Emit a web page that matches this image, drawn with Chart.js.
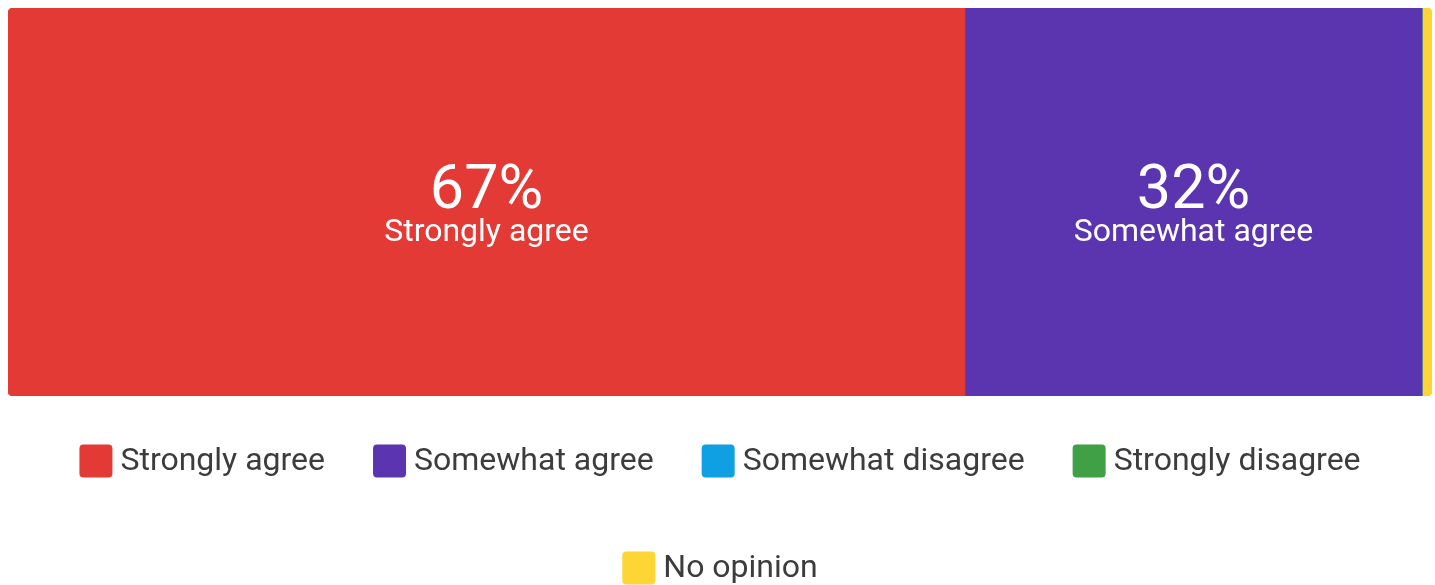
<!DOCTYPE html>
<html>
<head>
<meta charset="utf-8">
<script src="https://cdn.jsdelivr.net/npm/chart.js@4/dist/chart.umd.min.js"></script>
<style>
  html, body { margin: 0; padding: 0; background: #ffffff; }
  #wrap { width: 1435px; height: 585px; position: relative; }
</style>
</head>
<body>
<div id="wrap"><canvas id="c"></canvas></div>
<script>
// ---- data ----
const categories = ["Responses"];
const seriesLabels = ["Strongly agree", "Somewhat agree", "Somewhat disagree", "Strongly disagree", "No opinion"];
const seriesValues = [67.2, 32.1, 0, 0, 0.7];
const seriesColors = ["#E33A35", "#5B35AF", "#0FA0E3", "#3FA046", "#FDD534"];

const FONT = "Roboto, 'Liberation Sans', sans-serif";
const lastIdx = seriesValues.length - 1;

const datasets = seriesLabels.map((lab, i) => ({
  label: lab,
  data: [seriesValues[i]],
  backgroundColor: seriesColors[i],
  borderWidth: 0,
  borderSkipped: false,
  borderRadius: i === 0 ? {topLeft: 5, bottomLeft: 5, topRight: 0, bottomRight: 0}
              : (i === lastIdx ? {topLeft: 0, bottomLeft: 0, topRight: 5, bottomRight: 5}
              : {topLeft: 0, bottomLeft: 0, topRight: 0, bottomRight: 0}),
  barPercentage: 1.0,
  categoryPercentage: 1.0
}));

// labels inside the segments
const segmentLabels = {
  id: 'segmentLabels',
  afterDatasetsDraw(chart) {
    const ctx = chart.ctx;
    ctx.save();
    ctx.textAlign = 'center';
    ctx.textBaseline = 'alphabetic';
    chart.data.datasets.forEach((ds, i) => {
      const meta = chart.getDatasetMeta(i);
      const el = meta.data[0];
      if (!el) return;
      const w = Math.abs(el.x - el.base);
      if (w < 150) return;
      const cx = (el.x + el.base) / 2;
      const cy = el.y;
      ctx.fillStyle = '#ffffff';
      ctx.font = '400 61px ' + FONT;
      ctx.fillText(Math.round(ds.data[0]) + '%', cx, cy + 6);
      ctx.font = '400 32px ' + FONT;
      ctx.fillText(ds.label, cx, cy + 39);
    });
    ctx.restore();
  }
};

// custom legend: rows centred under the bar
const bottomLegend = {
  id: 'bottomLegend',
  afterDraw(chart) {
    const ctx = chart.ctx;
    const box = 33, gapText = 8, gapItem = 48, rowGap = 107;
    const fontSize = 32;
    ctx.save();
    ctx.font = '400 ' + fontSize + 'px ' + FONT;
    const items = chart.data.datasets.map(ds => ({
      text: ds.label, color: ds.backgroundColor,
      w: box + gapText + ctx.measureText(ds.label).width
    }));
    const maxW = chart.width - 60;
    const rows = [[]];
    let cur = 0;
    items.forEach(it => {
      const add = (rows[rows.length - 1].length ? gapItem : 0) + it.w;
      if (rows[rows.length - 1].length && cur + add > maxW) {
        rows.push([it]); cur = it.w;
      } else {
        rows[rows.length - 1].push(it); cur += add;
      }
    });
    const centerX = (chart.chartArea.left + chart.chartArea.right) / 2;
    let y = chart.chartArea.bottom + 65;
    rows.forEach(row => {
      const total = row.reduce((s, it) => s + it.w, 0) + gapItem * (row.length - 1);
      let x = centerX - total / 2;
      row.forEach(it => {
        ctx.fillStyle = it.color;
        ctx.beginPath();
        ctx.roundRect(x, y - box / 2, box, box, 4);
        ctx.fill();
        ctx.fillStyle = '#3c3c3c';
        ctx.textAlign = 'left';
        ctx.textBaseline = 'middle';
        ctx.fillText(it.text, x + box + gapText, y + 1);
        x += it.w + gapItem;
      });
      y += rowGap;
    });
    ctx.restore();
  }
};

new Chart(document.getElementById('c'), {
  type: 'bar',
  data: { labels: categories, datasets },
  options: {
    indexAxis: 'y',
    responsive: true,
    maintainAspectRatio: false,
    animation: false,
    layout: { padding: { left: 8, right: 3, top: 8, bottom: 189 } },
    scales: {
      x: { stacked: true, min: 0, max: 100, display: false },
      y: { stacked: true, display: false }
    },
    plugins: {
      legend: { display: false },
      tooltip: { enabled: false }
    }
  },
  plugins: [segmentLabels, bottomLegend]
});
</script>
</body>
</html>
